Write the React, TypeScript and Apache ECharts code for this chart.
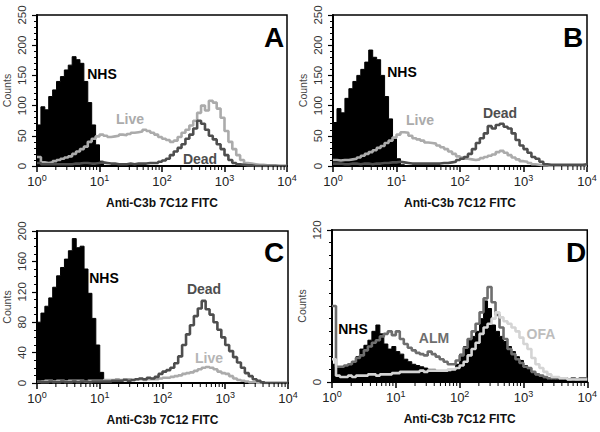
import React, { useEffect, useRef } from 'react';
import * as echarts from 'echarts';

// 64 log-spaced bins per panel, spanning 10^0 .. 10^4
const nhsA = [68,98,93,115,126,140,148,159,167,181,176,170,140,105,68,35, 8,1,0,0,0,0,0,0,0,0,0,0,0,0,0,0, 0,0,0,0,0,0,0,0,0,0,0,0,0,0,0,0, 0,0,0,0,0,0,0,0,0,0,0,0,0,0,0,0];
const liveA = [15,6,5,6,8,10,12,14,16,20,24,28,32,40,45,49, 52,50,48,49,50,52,51,53,55,56,57,60,58,55,52,48, 45,43,40,42,48,55,60,67,75,88,100,92,108,105,95,80, 58,40,28,18,10,5,4,3,2,2,1,1,1,0,0,0];
const deadA = [5,3,3,3,3,3,3,3,3,4,4,5,5,4,4,5, 6,5,4,4,3,3,3,4,3,4,4,4,5,5,5,7, 9,12,18,24,30,36,45,52,62,75,70,60,50,44,36,28, 18,10,5,3,2,1,1,0,0,0,0,0,0,0,0,0];

const nhsB = [72,95,88,112,128,140,150,160,172,192,180,176,150,115,78,45, 12,2,0,0,0,0,0,0,0,0,0,0,0,0,0,0, 0,0,0,0,0,0,0,0,0,0,0,0,0,0,0,0, 0,0,0,0,0,0,0,0,0,0,0,0,0,0,0,0];
const liveB = [10,9,10,10,11,12,14,17,20,23,26,30,33,38,42,47, 52,56,55,50,46,44,42,39,38,37,34,31,28,24,20,16, 14,12,11,10,11,13,15,17,19,23,25,22,18,14,11,8, 7,5,3,2,1,1,0,0,0,0,0,0,0,0,0,0];
const deadB = [4,4,3,3,4,4,3,4,4,3,4,4,5,5,6,6, 7,6,5,4,4,4,4,4,4,4,4,5,5,6,7,10, 12,15,20,28,38,46,54,66,62,68,70,65,62,54,43,34, 28,22,15,12,7,3,2,2,2,2,2,2,2,2,2,3];

const nhsC = [80,92,101,112,126,141,152,163,174,190,178,180,150,118,85,50, 14,2,0,0,0,0,0,0,0,0,0,0,0,0,0,0, 0,0,0,0,0,0,0,0,0,0,0,0,0,0,0,0, 0,0,0,0,0,0,0,0,0,0,0,0,0,0,0,0];
const liveC = [2,2,3,3,2,3,3,2,3,3,3,3,2,3,3,3, 3,4,4,4,5,4,5,5,4,5,5,4,5,5,5,6, 7,7,8,9,10,12,13,14,16,18,20,21,20,18,15,13, 12,9,6,4,3,2,1,1,0,0,0,0,0,0,0,0];
const deadC = [2,1,1,2,1,1,2,1,1,2,1,2,2,1,2,2, 2,2,2,3,3,3,4,3,4,5,6,5,7,6,8,12, 15,17,20,26,35,50,64,76,88,98,108,97,90,80,70,60, 50,42,34,27,20,13,9,5,3,1,0,0,0,0,0,0];

const nhsD = [14,12,11,13,14,16,20,26,29,33,40,45,38,30,26,28, 24,22,18,16,14,13,12,11,10,10,9,9,8,8,9,14, 22,28,33,36,40,50,64,58,45,40,36,32,28,24,20,17, 13,10,8,5,4,3,2,2,2,2,2,2,2,2,2,2];
const almD = [60,12,12,13,14,16,19,21,25,28,31,33,36,38,40,37, 40,34,30,27,25,23,22,21,24,22,20,18,16,14,14,17, 21,27,34,40,46,55,66,75,63,53,43,34,26,22,18,15, 12,11,8,6,5,4,3,3,3,3,3,2,3,2,3,3];
const ofaD = [18,5,4,4,5,4,5,5,5,6,6,5,6,6,6,7, 7,8,8,8,8,8,9,8,9,9,9,9,9,10,10,11, 13,16,21,26,31,38,43,46,50,55,51,48,46,43,40,35, 30,26,19,14,11,8,6,4,4,3,3,2,2,2,2,2];

const decadeExps = [0, 1, 2, 3];
const minorMultipliers = [2, 3, 4, 5, 6, 7, 8, 9];

const FONT = "'Liberation Sans', Arial, Helvetica, sans-serif";
const C_LIVE = '#ababab';
const C_DEAD = '#4e4e4e';
const C_ALM = '#6e6e6e';
const C_OFA = '#d4d4d4';

function stepData(counts: number[]) {
  const n = counts.length;
  const pts: number[][] = counts.map((c, i) => [Math.pow(10, (i * 4) / n), c]);
  pts.push([10000, counts[n - 1]]);
  return pts;
}

const minorTickData: number[][] = [];
decadeExps.forEach((e) => minorMultipliers.forEach((m) => minorTickData.push([m * Math.pow(10, e), 0])));

const grids = [
  { left: 34, top: 15, right: 313, bottom: 266 },
  { left: 333, top: 15, right: 13, bottom: 266 },
  { left: 35, top: 231, right: 312, bottom: 49 },
  { left: 332, top: 230, right: 11, bottom: 50 },
];

function xAxis(gi: number) {
  return {
    type: 'log', logBase: 10, min: 1, max: 10000, gridIndex: gi, splitNumber: 4,
    axisLine: { show: true, onZero: false, lineStyle: { color: '#000', width: 2 } },
    axisTick: { show: true, length: 6, lineStyle: { color: '#000', width: 1.5 } },
    minorTick: { show: false },
    splitLine: { show: false },
    axisLabel: {
      margin: 7,
      formatter: (v: number) => `{b|10}{s|${Math.round(Math.log10(v))}}`,
      rich: {
        b: { fontSize: 13, color: '#222', fontFamily: FONT, lineHeight: 16 },
        s: { fontSize: 9, color: '#222', fontFamily: FONT, verticalAlign: 'top', lineHeight: 16, padding: [0, 0, 6, 0] },
      },
    },
    name: 'Anti-C3b 7C12 FITC', nameLocation: 'middle', nameGap: 31,
    nameTextStyle: { fontSize: 12, fontWeight: 'bold', color: '#111', fontFamily: FONT },
  };
}

function yAxis(gi: number, max: number, interval: number, minorSplit: number) {
  return {
    type: 'value', min: 0, max, interval, gridIndex: gi,
    axisLine: { show: true, lineStyle: { color: '#000', width: 2 } },
    axisTick: { show: true, length: 5, lineStyle: { color: '#000', width: 1.2 } },
    minorTick: { show: true, splitNumber: minorSplit, length: 3, lineStyle: { color: '#000', width: 1 } },
    splitLine: { show: false },
    axisLabel: { rotate: 90, fontSize: 11.5, color: '#333', margin: 9, fontFamily: FONT },
    name: 'Counts', nameLocation: 'middle', nameGap: 25,
    nameTextStyle: { fontSize: 10.5, color: '#444', fontFamily: FONT },
  };
}

function stepLine(gi: number, counts: number[], color: string, filled: boolean, z: number) {
  return {
    type: 'line', xAxisIndex: gi, yAxisIndex: gi, step: 'end', symbol: 'none', z,
    data: stepData(counts),
    lineStyle: { color, width: filled ? 1 : 2.6 },
    areaStyle: filled ? { color, opacity: 1 } : undefined,
    silent: true,
  };
}

function minorTicks(gi: number) {
  return {
    type: 'custom', xAxisIndex: gi, yAxisIndex: gi, clip: false, silent: true, z: 10,
    data: minorTickData,
    renderItem: (_p: any, api: any) => {
      const pt = api.coord([api.value(0), 0]);
      return { type: 'line', shape: { x1: pt[0], y1: pt[1], x2: pt[0], y2: pt[1] + 4 }, style: { stroke: '#000', lineWidth: 1 } };
    },
  };
}

function label(text: string, cx: number, cy: number, color: string, size: number) {
  return {
    type: 'text', x: cx, y: cy, z: 100,
    style: {
      text, fill: color, font: `bold ${size}px ${FONT}`,
      align: 'center', verticalAlign: 'middle', textAlign: 'center', textVerticalAlign: 'middle',
    },
  };
}

export default function App() {
  const ref = useRef<HTMLDivElement>(null);
  useEffect(() => {
    if (!ref.current) return;
    const chart = echarts.init(ref.current, undefined, { renderer: 'svg' });
    chart.setOption({
      animation: false,
      backgroundColor: '#fff',
      grid: grids.map((g) => ({ ...g, show: true, borderColor: '#000', borderWidth: 1.5, backgroundColor: 'transparent' })),
      xAxis: [0, 1, 2, 3].map((i) => xAxis(i)),
      yAxis: [yAxis(0, 250, 50, 5), yAxis(1, 250, 50, 5), yAxis(2, 200, 40, 4), yAxis(3, 120, 120, 12)],
      series: [
        stepLine(0, nhsA, '#000', true, 2),
        stepLine(0, liveA, C_LIVE, false, 3),
        stepLine(0, deadA, C_DEAD, false, 4),
        stepLine(1, nhsB, '#000', true, 2),
        stepLine(1, liveB, C_LIVE, false, 3),
        stepLine(1, deadB, C_DEAD, false, 4),
        stepLine(2, nhsC, '#000', true, 2),
        stepLine(2, liveC, C_LIVE, false, 3),
        stepLine(2, deadC, C_DEAD, false, 4),
        stepLine(3, nhsD, '#000', true, 2),
        stepLine(3, almD, C_ALM, false, 3),
        stepLine(3, ofaD, C_OFA, false, 4),
        minorTicks(0), minorTicks(1), minorTicks(2), minorTicks(3),
      ],
      graphic: [
        label('NHS', 102, 74, '#000', 14),
        label('Live', 130, 119, C_LIVE, 14),
        label('Dead', 200, 159, C_DEAD, 14),
        label('A', 274, 37, '#000', 28),
        label('NHS', 402, 72, '#000', 14),
        label('Live', 420, 120, C_LIVE, 14),
        label('Dead', 500, 113, C_DEAD, 14),
        label('B', 573, 37, '#000', 28),
        label('NHS', 104, 278, '#000', 14),
        label('Dead', 204, 289, C_DEAD, 14),
        label('Live', 209, 358, '#b5b5b5', 14),
        label('C', 274, 252, '#000', 28),
        label('NHS', 353, 329, '#000', 14),
        label('ALM', 434, 338, C_ALM, 14),
        label('OFA', 541, 334, '#bdbdbd', 14),
        label('D', 576, 252, '#000', 28),
      ],
    });
    return () => chart.dispose();
  }, []);
  return <div ref={ref} style={{ position: 'fixed', left: 0, top: 0, width: 600, height: 432, background: '#fff' }} />;
}
